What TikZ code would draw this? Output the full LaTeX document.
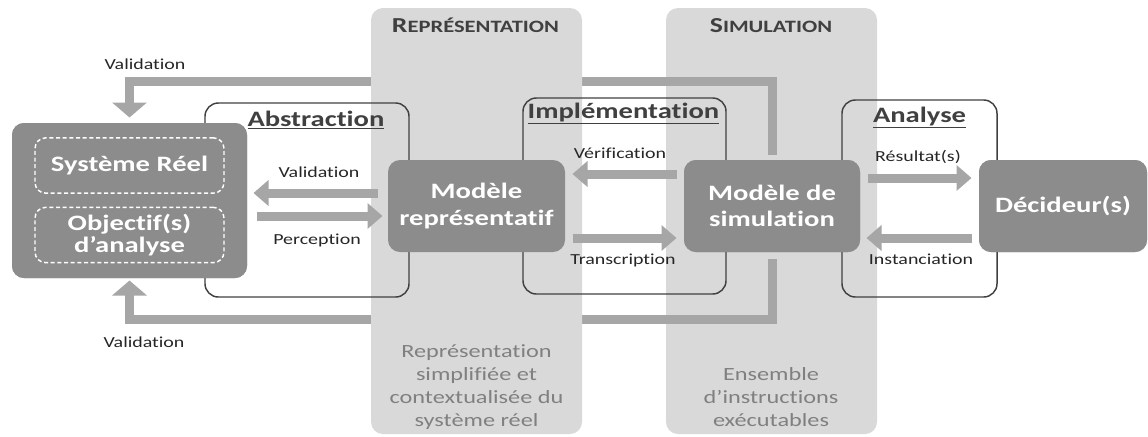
\documentclass[tikz,border=0pt]{standalone}
\usepackage{fontspec}
\setmainfont{Carlito}[FakeStretch=1.3,Ligatures=CommonOff]
\usetikzlibrary{arrows.meta}

\definecolor{colbg}{RGB}{217,217,217}
\definecolor{boxgray}{RGB}{140,140,140}
\definecolor{arrowgray}{RGB}{166,166,166}
\definecolor{framegray}{RGB}{64,64,64}
\definecolor{labelgray}{RGB}{38,38,38}
\definecolor{notegray}{RGB}{128,128,128}

\tikzset{every picture/.style={line width=0.75pt}}
\tikzset{
  phasecol/.style={fill=colbg, draw=none, rounded corners=9pt},
  phaseframe/.style={draw=framegray, line width=1.1pt, rounded corners=10pt},
  bigbox/.style={fill=boxgray, rounded corners=9pt, text=white, align=center, inner sep=0pt,
    font=\bfseries\fontsize{16.5}{20}\selectfont},
  subbox/.style={draw=white, line width=1.1pt, dash pattern=on 3pt off 2pt, rounded corners=8pt,
    text=white, align=center, inner sep=0pt, minimum width=141.75pt, minimum height=41.5pt,
    font=\bfseries\fontsize{16.5}{16.5}\selectfont},
  flow/.style={draw=arrowgray, line width=6.75pt, -{Triangle[width=18.75pt,length=11.25pt]}},
  feedback/.style={draw=arrowgray, line width=6.75pt, -{Triangle[width=25.5pt,length=11.25pt]},
    shorten <=3.75pt},
  flowlabel/.style={text=labelgray, inner sep=0pt, anchor=base, font=\fontsize{11.5}{13}\selectfont},
  phasetitle/.style={text=framegray, inner sep=0pt, anchor=base, font=\bfseries\fontsize{16.5}{20}\selectfont},
  coltitle/.style={text=framegray, inner sep=0pt, anchor=base, font=\bfseries},
  colnote/.style={text=notegray, inner sep=0pt, anchor=base, align=center, font=\fontsize{14}{17.25}\selectfont}
}

\begin{document}
\begin{tikzpicture}[x=0.75pt,y=0.75pt,yscale=-1,xscale=1]
\useasboundingbox (0,0) rectangle (1148,436);

%Shape: column Simulation
\path[phasecol] (666,8) rectangle (877,434);

% feedback points
\coordinate (valtop) at (129.5,81);
\coordinate (valbot) at (129.5,319);

%Boxes (placed first, drawn later on top)
\path (129.5,200.5) node [bigbox, minimum width=176.25pt, minimum height=116.25pt] (sysbox) {};
\path (476.5,206) node [bigbox, minimum width=132.75pt, minimum height=69pt] (repbox) {Modèle\\représentatif};
\path (772,206) node [bigbox, minimum width=132pt, minimum height=69pt] (simbox) {Modèle de\\simulation};
\path (1063,206) node [bigbox, minimum width=126pt, minimum height=69pt] (decbox) {Décideur(s)};

%Feedback arrows (Validation)
\draw[feedback, shorten >=3.75pt] (simbox.north) |- (valtop) -- (sysbox.north);
\draw[feedback, shorten >=1.5pt, shorten <=4.5pt] (simbox.south) |- (valbot) -- (sysbox.south);

%Shape: column Représentation
\path[phasecol] (371,8) rectangle (582,434);

%Frames
\draw[phaseframe] (205,103) rectangle (409,297);
\draw[phaseframe] (523,98) rectangle (726,294);
\draw[phaseframe] (842,100) rectangle (997,297);

%Boxes on top
\path (129.5,200.5) node [bigbox, minimum width=176.25pt, minimum height=116.25pt] {};
\path (476.5,206) node [bigbox, minimum width=132.75pt, minimum height=69pt] {Modèle\\représentatif};
\path (772,206) node [bigbox, minimum width=132pt, minimum height=69pt] {Modèle de\\simulation};
\path (1063,206) node [bigbox, minimum width=126pt, minimum height=69pt] {Décideur(s)};
\path (129.5,165.5) node [subbox] (sysreel) {Système Réel};
\path (129.5,235) node [subbox] (objectifs) {Objectif(s)\\d’analyse};

%Arrows between boxes (yshift is flipped by yscale=-1)
\draw[flow, shorten <=7.5pt, shorten >=4.5pt] ([yshift=-9.75pt]repbox.west) -- ([yshift=-5.625pt]sysbox.east);
\draw[flow, shorten <=6.75pt, shorten >=3.75pt] ([yshift=11.625pt]sysbox.east) -- ([yshift=7.5pt]repbox.west);
\draw[flow, shorten <=5.25pt, shorten >=5.25pt] ([yshift=-24pt]simbox.west) -- ([yshift=-24pt]repbox.east);
\draw[flow, shorten <=5.25pt, shorten >=5.25pt] ([yshift=24pt]repbox.east) -- ([yshift=24pt]simbox.west);
\draw[flow, shorten <=5.25pt, shorten >=5.25pt] ([yshift=-21pt]simbox.east) -- ([yshift=-21pt]decbox.west);
\draw[flow, shorten <=5.25pt, shorten >=4.5pt] ([yshift=24pt]decbox.west) -- ([yshift=24pt]simbox.east);

% Text Node
\draw (475.5,32) node [coltitle] (reptitle) {{\fontsize{16}{19}\selectfont R}{\fontsize{13}{15}\selectfont EPRÉSENTATION}};
% Text Node
\draw (771,32) node [coltitle] (simtitle) {{\fontsize{16}{19}\selectfont S}{\fontsize{13}{15}\selectfont IMULATION}};
% Text Node
\draw (316,126) node [phasetitle] (abstitle) {\underline{Abstraction}};
% Text Node
\draw (623.5,118) node [phasetitle] (impltitle) {\underline{Implémentation}};
% Text Node
\draw (919.5,122) node [phasetitle] (anatitle) {\underline{Analyse}};
% Text Node
\draw (145,69) node [flowlabel] (valtoplabel) {Validation};
% Text Node
\draw (144,347) node [flowlabel] (valbotlabel) {Validation};
% Text Node
\draw (319,177) node [flowlabel] (valmidlabel) {Validation};
% Text Node
\draw (317,244) node [flowlabel] (perclabel) {Perception};
% Text Node
\draw (620,158) node [flowlabel] (veriflabel) {Vérification};
% Text Node
\draw (623,264) node [flowlabel] (translabel) {Transcription};
% Text Node
\draw (918,161) node [flowlabel] (reslabel) {Résultat(s)};
% Text Node
\draw (921,264) node [flowlabel] (instlabel) {Instanciation};
% Text Node
\draw (476.5,426) node [colnote] (repnote) {Représentation\\simplifiée et\\contextualisée du\\système réel};
% Text Node
\draw (771,426) node [colnote] (simnote) {Ensemble\\d’instructions\\exécutables};

\end{tikzpicture}
\end{document}
